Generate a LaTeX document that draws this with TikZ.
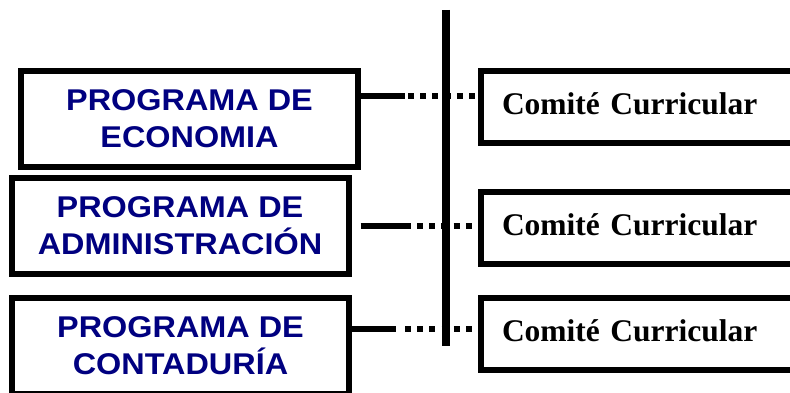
\documentclass[tikz,border=0pt]{standalone}
\usepackage{fontspec}
\newfontfamily\progfont{Liberation Sans}[FakeStretch=1.08]
\newfontfamily\comfont{Liberation Serif}
\definecolor{progblue}{RGB}{0,0,128}
\begin{document}
\begin{tikzpicture}[x=1pt,y=1pt,
  progbox/.style={draw, line width=6pt, minimum width=337pt, minimum height=96pt,
    inner sep=0pt, font=\progfont\bfseries\fontsize{30}{37}\selectfont,
    text=progblue, align=center},
  combox/.style={draw, line width=6pt, minimum width=319pt, minimum height=72pt,
    inner xsep=21pt, inner ysep=0pt, text width=277pt, align=left, text depth=7pt,
    font=\comfont\bfseries\fontsize{31.5}{36}\selectfont},
  solidconn/.style={line width=6pt},
  dotconn/.style={line width=6pt, dash pattern=on 6pt off 6.2pt},
  spine/.style={line width=8pt}]
\useasboundingbox (0,0) rectangle (790,392);
\clip (0,0) rectangle (790,392);
\fill[white] (0,0) rectangle (790,392);
% program boxes
\node[progbox] (p1) at (189.5,273) {PROGRAMA DE\\ECONOMIA};
\node[progbox] (p2) at (180,166) {PROGRAMA DE\\ADMINISTRACIÓN};
\node[progbox] (p3) at (180.5,46) {PROGRAMA DE\\CONTADURÍA};
% committee boxes
\node[combox] (c1) at (640.5,285) {Comité Curricular};
\node[combox] (c2) at (640.5,164) {Comité Curricular};
\node[combox] (c3) at (640.5,58) {Comité Curricular};
% spine
\coordinate (st) at (446,382);
\coordinate (sb) at (446,46);
\draw[spine] (st) -- (sb);
% connector 1
\coordinate (a1) at (405,296);
\coordinate (b1) at (408,296);
\draw[solidconn] (p1.east |- a1) -- (a1);
\draw[dotconn] (b1) -- (c1.west |- b1);
% connector 2
\coordinate (a2) at (411,166);
\coordinate (b2) at (417,166);
\draw[solidconn, shorten <=9pt] (p2.east |- a2) -- (a2);
\draw[dotconn] (b2) -- (c2.west |- b2);
% connector 3
\coordinate (a3) at (396,63);
\coordinate (b3) at (405,63);
\draw[solidconn] (p3.east |- a3) -- (a3);
\draw[dotconn] (b3) -- (c3.west |- b3);
\end{tikzpicture}
\end{document}
